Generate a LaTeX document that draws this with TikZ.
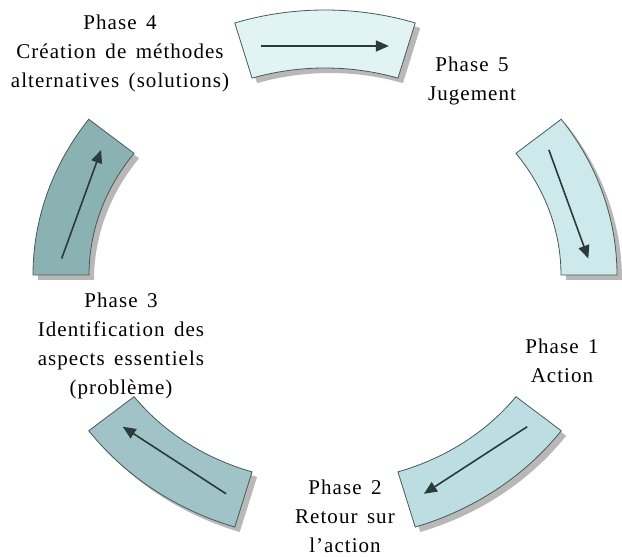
\documentclass[tikz,border=0pt]{standalone}
\usepackage{fontspec}
\newfontfamily\phasefont{Liberation Serif}[LetterSpace=5, WordSpace=1.5]
\usetikzlibrary{arrows.meta}

\definecolor{segA}{HTML}{E2F3F3}
\definecolor{segB}{HTML}{CDE9EC}
\definecolor{segC}{HTML}{BCDEE2}
\definecolor{segD}{HTML}{9FC3C6}
\definecolor{segE}{HTML}{8AB2B3}
\definecolor{rim}{HTML}{4A5858}
\definecolor{shade}{HTML}{B8B8B8}
\definecolor{tip}{HTML}{2B3A3A}

\tikzset{
	rout/.style={x radius=292, y radius=265},
	rin/.style={x radius=236, y radius=207},
	seg/.style={draw=rim, line width=.8pt},
	segshadow/.style={fill=shade, shift={(5,-5)}},
	flow/.style={draw=tip, line width=1.6pt, -{Triangle[length=13pt, width=11pt]}},
	phase/.style={font=\phasefont\fontsize{21}{29}\selectfont, align=center}
}

\begin{document}
\begin{tikzpicture}[x=1pt, y=1pt]
			\useasboundingbox (-325,-282) rectangle (297,275);

			% shadows
			\fill[segshadow] (72:292 and 265) arc[start angle=72, end angle=108, rout] -- (108:236 and 207) arc[start angle=108, end angle=72, rin] -- cycle;
			\fill[segshadow] (0:292 and 265) arc[start angle=0, end angle=36, rout] -- (36:236 and 207) arc[start angle=36, end angle=0, rin] -- cycle;
			\fill[segshadow] (-72:292 and 265) arc[start angle=-72, end angle=-36, rout] -- (-36:236 and 207) arc[start angle=-36, end angle=-72, rin] -- cycle;
			\fill[segshadow] (-144:292 and 265) arc[start angle=-144, end angle=-108, rout] -- (-108:236 and 207) arc[start angle=-108, end angle=-144, rin] -- cycle;
			\fill[segshadow] (144:292 and 265) arc[start angle=144, end angle=180, rout] -- (180:236 and 207) arc[start angle=180, end angle=144, rin] -- cycle;

			% segments
			\filldraw[seg, fill=segA] (72:292 and 265) arc[start angle=72, end angle=108, rout] -- (108:236 and 207) arc[start angle=108, end angle=72, rin] -- cycle;
			\filldraw[seg, fill=segB] (0:292 and 265) arc[start angle=0, end angle=36, rout] -- (36:236 and 207) arc[start angle=36, end angle=0, rin] -- cycle;
			\filldraw[seg, fill=segC] (-72:292 and 265) arc[start angle=-72, end angle=-36, rout] -- (-36:236 and 207) arc[start angle=-36, end angle=-72, rin] -- cycle;
			\filldraw[seg, fill=segD] (-144:292 and 265) arc[start angle=-144, end angle=-108, rout] -- (-108:236 and 207) arc[start angle=-108, end angle=-144, rin] -- cycle;
			\filldraw[seg, fill=segE] (144:292 and 265) arc[start angle=144, end angle=180, rout] -- (180:236 and 207) arc[start angle=180, end angle=144, rin] -- cycle;

			% arrows
			\draw[flow] (104:264 and 236) -- (76:264 and 236);
			\draw[flow] (32:264 and 236) -- (4:264 and 236);
			\draw[flow] (-40:264 and 236) -- (-68:264 and 236);
			\draw[flow] (-112:264 and 236) -- (-140:264 and 236);
			\draw[flow] (176:264 and 236) -- (148:264 and 236);

			% labels
			\node[phase] (ph4) at (-205,222) {Phase 4\\Création de méthodes\\alternatives (solutions)};
			\node[phase] (ph5) at (147,194) {Phase 5\\Jugement};
			\node[phase] (ph1) at (237,-86) {Phase 1\\Action};
			\node[phase] (ph2) at (20,-241) {Phase 2\\Retour sur\\l’action};
			\node[phase] (ph3) at (-204,-71) {Phase 3\\Identification des\\aspects essentiels\\(problème)};
		\end{tikzpicture}
\end{document}
